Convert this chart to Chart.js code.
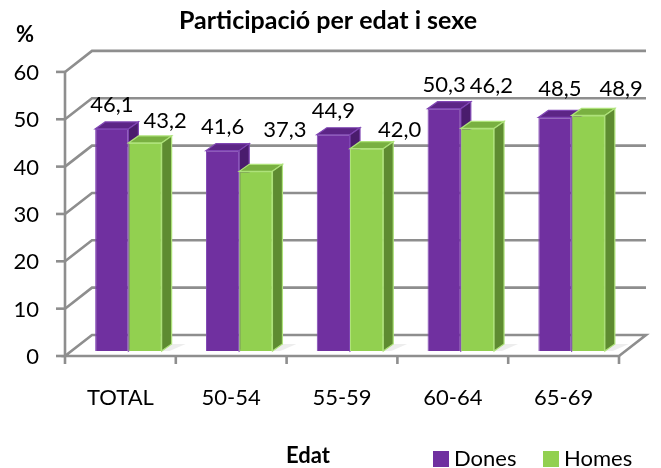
<!DOCTYPE html>
<html>
<head>
<meta charset="utf-8">
<script src="https://cdn.jsdelivr.net/npm/chart.js@4/dist/chart.umd.min.js"></script>
<style>
html,body{margin:0;padding:0;background:#fff;}
#wrap{width:661px;height:468px;position:relative;}
</style>
</head>
<body>
<div id="wrap"><canvas id="c" width="661" height="468"></canvas></div>
<script>
// ---- data ----
const categories = ['TOTAL', '50-54', '55-59', '60-64', '65-69'];
const dones = [46.1, 41.6, 44.9, 50.3, 48.5];
const homes = [43.2, 37.3, 42.0, 46.2, 48.9];
const yTicks = [0, 10, 20, 30, 40, 50, 60];
const titleText = 'Participació per edat i sexe';
const yUnit = '%';
const xTitle = 'Edat';

// ---- geometry / style (not data) ----
const G = {
  front: {dx: -8, dy: 5},
  back: {dx: 19, dy: -16},
  persp: 0.983,
  depth: {dx: 10, dy: -7}
};
const labelNudge = [
  {dx: [0, 0, 0, 0, 5], dy: [-25, -25, -25, -25, -29]},
  {dx: [20, 29, 33, 14, 33], dy: [-23, -42, -20, -43, -27]}
];
const faces = [
  {top: '#5c2586', side: '#4a1c6d', edge: '#7f45b3'},
  {top: '#79b041', side: '#5e8b31', edge: '#aee27a'}
];
const FONT = 'Lato, "Open Sans", sans-serif';
const GRID = '#8e8e8e';

function fmt(v){ return v.toFixed(1).replace('.', ','); }

function drawFaces(ctx, bar, f) {
  const D = G.depth;
  const l = bar.x - bar.width / 2, r = bar.x + bar.width / 2;
  const t = bar.y, b = bar.base;
  ctx.lineWidth = 1.2;
  ctx.strokeStyle = f.edge;
  ctx.beginPath();
  ctx.moveTo(l, t); ctx.lineTo(r, t); ctx.lineTo(r + D.dx, t + D.dy); ctx.lineTo(l + D.dx, t + D.dy);
  ctx.closePath();
  ctx.fillStyle = f.top; ctx.fill(); ctx.stroke();
  ctx.beginPath();
  ctx.moveTo(r, t); ctx.lineTo(r + D.dx, t + D.dy); ctx.lineTo(r + D.dx, b + D.dy); ctx.lineTo(r, b);
  ctx.closePath();
  ctx.fillStyle = f.side; ctx.fill(); ctx.stroke();
}

const threeD = {
  id: 'threeD',
  beforeDatasetsDraw(chart) {
    const {ctx, chartArea: a} = chart;
    const ys = chart.scales.y, xs = chart.scales.x;
    const base = ys.getPixelForValue(0);
    const py = (v, s) => base + (ys.getPixelForValue(v) - base) * G.persp + s.dy;
    const fL = a.left + G.front.dx, fR = a.right + G.front.dx;
    const bL = a.left + G.back.dx, bR = a.right + G.back.dx;
    ctx.save();
    ctx.strokeStyle = GRID;
    ctx.lineWidth = 2.6;
    ctx.lineCap = 'butt';
    // floor
    ctx.beginPath();
    ctx.moveTo(fL, py(0, G.front));
    ctx.lineTo(fR, py(0, G.front));
    ctx.lineTo(bR, py(0, G.back));
    ctx.lineTo(bL, py(0, G.back));
    ctx.closePath();
    ctx.fillStyle = '#ffffff';
    ctx.fill();
    ctx.stroke();
    // back wall grid + side wall diagonals
    yTicks.forEach(v => {
      if (v === 0) return;
      ctx.beginPath();
      ctx.moveTo(fL, py(v, G.front));
      ctx.lineTo(bL, py(v, G.back));
      ctx.lineTo(bR, py(v, G.back));
      ctx.stroke();
    });
    // front vertical axis
    ctx.beginPath();
    ctx.moveTo(fL, py(0, G.front) + 1);
    ctx.lineTo(fL, py(yTicks[yTicks.length - 1], G.front) - 1);
    ctx.stroke();
    // y tick marks
    yTicks.forEach(v => {
      ctx.beginPath();
      ctx.moveTo(fL - 9, py(v, G.front));
      ctx.lineTo(fL, py(v, G.front));
      ctx.stroke();
    });
    // category ticks
    const cw = xs.getPixelForValue(1) - xs.getPixelForValue(0);
    for (let i = 0; i <= categories.length; i++) {
      const x = xs.getPixelForValue(0) - cw / 2 + i * cw + G.front.dx;
      ctx.beginPath();
      ctx.moveTo(x, py(0, G.front));
      ctx.lineTo(x, py(0, G.front) + 8);
      ctx.stroke();
    }
    // soft shadows on the floor
    ctx.fillStyle = 'rgba(0,0,0,0.07)';
    chart.getDatasetMeta(1).data.forEach(bar => {
      const r = bar.x + bar.width / 2;
      ctx.beginPath();
      ctx.moveTo(r, bar.base);
      ctx.lineTo(r + G.depth.dx, bar.base + G.depth.dy);
      ctx.lineTo(r + G.depth.dx + 14, bar.base + G.depth.dy);
      ctx.lineTo(r + 8, bar.base);
      ctx.closePath();
      ctx.fill();
    });
    ctx.restore();
  },
  afterDatasetsDraw(chart) {
    const {ctx} = chart;
    const m0 = chart.getDatasetMeta(0).data, m1 = chart.getDatasetMeta(1).data;
    ctx.save();
    m0.forEach((bar, i) => {
      drawFaces(ctx, bar, faces[0]);
      // redraw the neighbouring front face so it hides the side of the first bar
      bar = m1[i];
      bar.draw(ctx);
      drawFaces(ctx, bar, faces[1]);
    });
    ctx.restore();
  },
  afterDraw(chart) {
    const {ctx, chartArea: a} = chart;
    const ys = chart.scales.y, xs = chart.scales.x;
    const base = ys.getPixelForValue(0);
    const py = (v, s) => base + (ys.getPixelForValue(v) - base) * G.persp + s.dy;
    const fL = a.left + G.front.dx;
    ctx.save();
    ctx.fillStyle = '#000';
    // title
    ctx.font = 'bold 25px ' + FONT;
    ctx.textAlign = 'center';
    ctx.textBaseline = 'alphabetic';
    ctx.fillText(titleText, 328, 29);
    // unit
    ctx.font = 'bold 22px ' + FONT;
    ctx.textAlign = 'left';
    ctx.fillText(yUnit, 16, 42);
    // y tick labels
    ctx.font = '22px ' + FONT;
    ctx.textAlign = 'right';
    yTicks.forEach(v => ctx.fillText(String(v), fL - 26, py(v, G.front) + 8));
    // category labels
    ctx.textAlign = 'center';
    categories.forEach((c, i) => ctx.fillText(c, xs.getPixelForValue(i) + G.front.dx, 405));
    // data labels
    chart.data.datasets.forEach((ds, di) => {
      chart.getDatasetMeta(di).data.forEach((bar, i) => {
        ctx.fillText(fmt(ds.data[i]), bar.x + labelNudge[di].dx[i], bar.y + labelNudge[di].dy[i] + 8);
      });
    });
    // x title
    ctx.font = 'bold 22px ' + FONT;
    ctx.fillText(xTitle, 308, 463);
    // legend
    ctx.font = '22px ' + FONT;
    ctx.textAlign = 'left';
    const leg = [{x: 433}, {x: 543}];
    chart.data.datasets.forEach((ds, di) => {
      ctx.fillStyle = ds.backgroundColor;
      ctx.fillRect(leg[di].x, 451, 16, 16);
      ctx.fillStyle = '#000';
      ctx.fillText(ds.label, leg[di].x + 21, 466);
    });
    ctx.restore();
  }
};

new Chart(document.getElementById('c'), {
  type: 'bar',
  data: {
    labels: categories,
    datasets: [
      {label: 'Dones', data: dones, backgroundColor: '#7030A0', borderColor: '#7f45b3', borderWidth: 1},
      {label: 'Homes', data: homes, backgroundColor: '#92D050', borderColor: '#aee27a', borderWidth: 1}
    ]
  },
  options: {
    responsive: false,
    animation: false,
    layout: {padding: {left: 73, right: 34, top: 62, bottom: 117}},
    datasets: {bar: {categoryPercentage: 0.6, barPercentage: 1.0}},
    scales: {
      x: {display: false, offset: true},
      y: {display: false, min: 0, max: 60}
    },
    plugins: {
      legend: {display: false},
      title: {display: false},
      tooltip: {enabled: false}
    }
  },
  plugins: [threeD]
});
</script>
</body>
</html>
